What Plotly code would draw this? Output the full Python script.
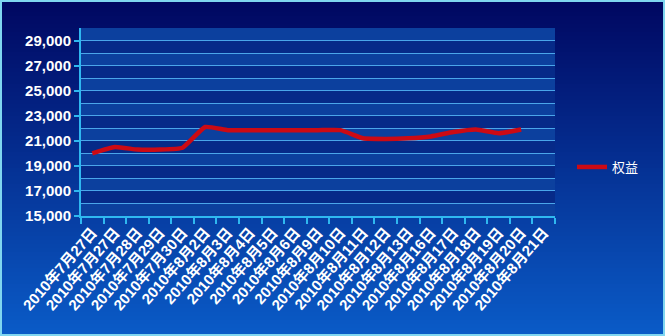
import plotly.graph_objects as go

dates = ["2010年7月27日", "2010年7月27日", "2010年7月28日", "2010年7月29日", "2010年7月30日",
         "2010年8月2日", "2010年8月3日", "2010年8月4日", "2010年8月5日", "2010年8月6日",
         "2010年8月9日", "2010年8月10日", "2010年8月11日", "2010年8月12日", "2010年8月13日",
         "2010年8月16日", "2010年8月17日", "2010年8月18日", "2010年8月19日", "2010年8月20日",
         "2010年8月21日"]
equity = [20000, 20500, 20300, 20300, 20450, 22100, 21850, 21850, 21850, 21850,
          21850, 21850, 21200, 21150, 21200, 21350, 21700, 21900, 21600, 21900]
series_name = "权益"
y_ticks = [15000, 17000, 19000, 21000, 23000, 25000, 27000, 29000]

W, H = 665, 336
L, R, T, B = 81, 110, 28, 120
pw, ph = W - L - R, H - T - B

def px_x(p):
    return (p - L) / pw

def px_y(p):
    return (H - B - p) / ph

def lerp(a, b, t):
    return tuple(int(round(a[i] + (b[i] - a[i]) * t)) for i in range(3))

shapes = []
top_c, bot_c = (0, 6, 96), (10, 92, 200)
N = 84
for i in range(N):
    y0p = H * i / N
    y1p = H * (i + 1) / N + 1
    c = lerp(top_c, bot_c, (i + 0.5) / N)
    shapes.append(dict(type="rect", xref="paper", yref="paper", layer="below",
                       x0=px_x(0), x1=px_x(W), y0=px_y(y1p), y1=px_y(y0p),
                       fillcolor="rgb(%d,%d,%d)" % c, line=dict(width=0)))
for k in range(15000, 30000, 1000):
    light = (k // 1000) % 2 == 1
    shapes.append(dict(type="rect", xref="paper", yref="y", layer="below",
                       x0=0, x1=1, y0=k, y1=k + 1000,
                       fillcolor="#0c409e" if light else "#062a88", line=dict(width=0)))
shapes.append(dict(type="rect", xref="paper", yref="paper", layer="above",
                   x0=px_x(1), x1=px_x(W - 1), y0=px_y(H - 1), y1=px_y(1),
                   line=dict(color="#7fd6f0", width=2), fillcolor="rgba(0,0,0,0)"))

fig = go.Figure()
fig.add_trace(go.Scatter(
    x=list(range(len(equity))), y=equity, mode="lines", name=series_name,
    line=dict(color="#cc0a14", width=4.5, shape="spline", smoothing=0.4),
))

fig.update_layout(
    width=W, height=H,
    margin=dict(l=L, r=R, t=T, b=B, pad=0),
    paper_bgcolor="#00086a", plot_bgcolor="rgba(0,0,0,0)",
    shapes=shapes,
    showlegend=True,
    legend=dict(x=px_x(572), y=px_y(167), xanchor="left", yanchor="middle",
                font=dict(color="white", size=13, family="Noto Sans CJK SC"),
                bgcolor="rgba(0,0,0,0)", itemwidth=30),
    xaxis=dict(
        range=[-0.5, len(dates) - 0.5],
        tickmode="array", tickvals=list(range(len(dates))), ticktext=dates,
        tickangle=-49, ticks="", showgrid=False, zeroline=False,
        tickfont=dict(color="white", size=15, family="Arial, Liberation Sans, Noto Sans CJK SC", weight="bold"),
        showline=True, linecolor="#2fb8f0", linewidth=2,
        minor=dict(tick0=0.5, dtick=1, ticks="outside", ticklen=6, tickwidth=2,
                   tickcolor="#2fb8f0", showgrid=False),
    ),
    yaxis=dict(
        range=[15000, 30000], tickmode="array", tickvals=y_ticks,
        tickformat=",d", ticks="outside", ticklen=5, tickwidth=2, tickcolor="#2fb8f0",
        showline=True, linecolor="#2fb8f0", linewidth=2,
        showgrid=True, gridcolor="#4aa6ea", gridwidth=1, zeroline=False,
        tickfont=dict(color="white", size=15, family="Arial, Liberation Sans", weight="bold"),
        minor=dict(dtick=1000, tick0=0, showgrid=True, gridcolor="#4aa6ea", gridwidth=1, ticks=""),
    ),
)

fig.write_html("out.html")
